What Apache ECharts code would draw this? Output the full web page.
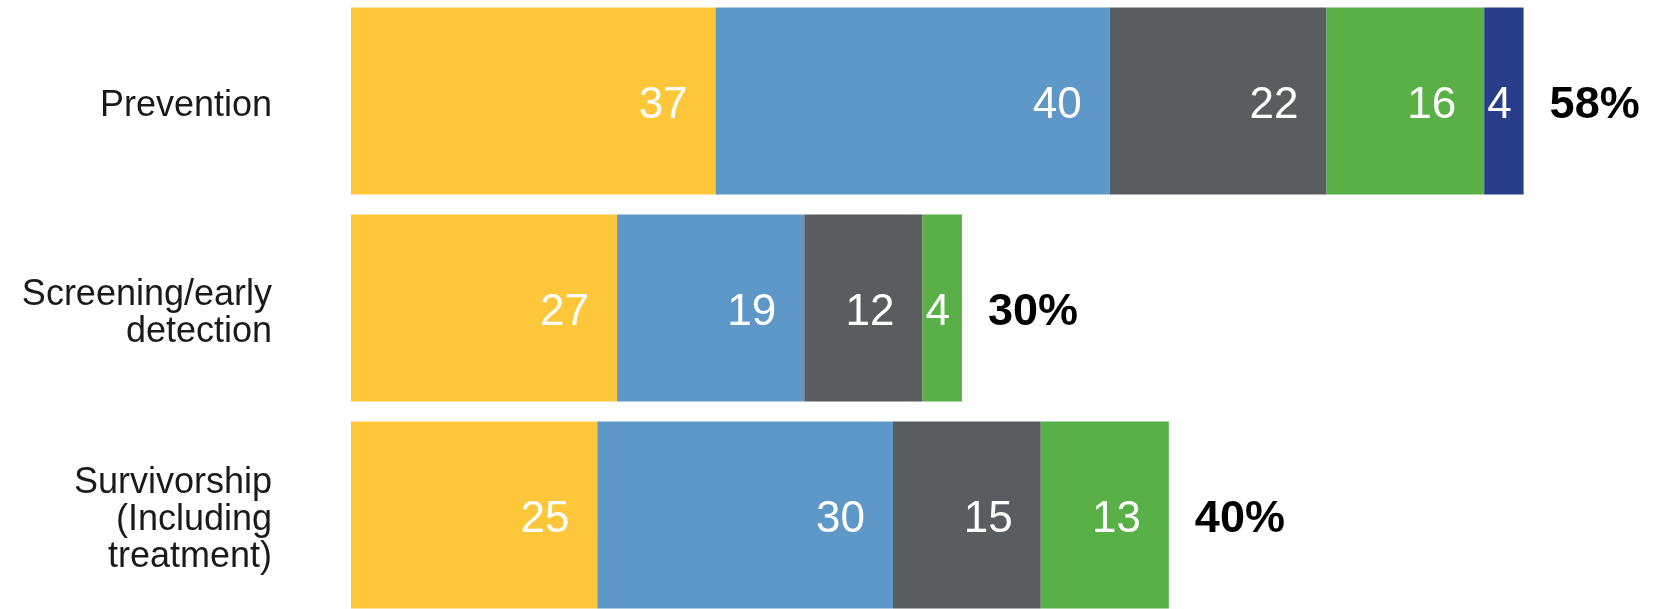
<!DOCTYPE html>
<html>
<head>
    <meta charset="utf-8">
    <title>Stacked bars</title>
    <script src="https://cdn.jsdelivr.net/npm/echarts@6/dist/echarts.min.js"></script>
    <style>
        html, body { margin: 0; padding: 0; background: #fff; }
        #main { width: 1673px; height: 609px; }
    </style>
</head>
<body>
    <div id="main"></div>
    <script>
        // data
        const categories = ['Prevention', 'Screening/early\ndetection', 'Survivorship\n(Including\ntreatment)'];
        const seriesNames = ['s1', 's2', 's3', 's4', 's5'];
        const seriesColors = ['#FEC73A', '#5E98C9', '#595D60', '#58B047', '#293E8A'];
        const values1 = [37, 27, 25];
        const values2 = [40, 19, 30];
        const values3 = [22, 12, 15];
        const values4 = [16, 4, 13];
        const values5 = [4, 0, 0];
        const pctLabels = ['58%', '30%', '40%'];

        const allValues = [values1, values2, values3, values4, values5];
        const totals = categories.map((c, i) => allValues.reduce((s, arr) => s + arr[i], 0));

        const myChart = echarts.init(document.getElementById('main'));
        const font = '"Liberation Sans", Arial, sans-serif';
        const BAR_W = 187;

        const series = allValues.map((arr, k) => ({
            name: seriesNames[k],
            type: 'bar',
            stack: 'all',
            barWidth: BAR_W,
            clip: false,
            itemStyle: { color: seriesColors[k] },
            data: arr.map(v => ({
                value: v,
                label: {
                    show: v > 0,
                    // too narrow for the usual inside-end placement
                    position: v < 6 ? 'insideLeft' : 'insideRight',
                    distance: v < 6 ? 3 : 28
                }
            })),
            label: {
                color: '#fff',
                fontSize: 44,
                fontFamily: font,
                offset: [0, 5]
            }
        }));

        // percentage labels at end of each bar
        series.push({
            name: 'total',
            type: 'bar',
            barWidth: BAR_W,
            barGap: '-100%',
            clip: false,
            z: 1,
            silent: true,
            itemStyle: { color: 'rgba(0,0,0,0)' },
            label: {
                show: true,
                position: 'right',
                distance: 26,
                offset: [0, 5],
                color: '#000',
                fontSize: 45,
                fontWeight: 'bold',
                fontFamily: font,
                formatter: p => pctLabels[p.dataIndex]
            },
            data: totals
        });

        const option = {
            animation: false,
            grid: { left: 351, right: 41, top: 101, height: 414, containLabel: false },
            xAxis: {
                type: 'value',
                min: 0,
                max: 130,
                show: false
            },
            yAxis: {
                type: 'category',
                inverse: true,
                boundaryGap: false,
                data: categories,
                axisLine: { show: false },
                axisTick: { show: false },
                splitLine: { show: false },
                axisLabel: {
                    margin: 79,
                    align: 'right',
                    // small spacer line on top nudges the text down a bit
                    formatter: v => '{s| }\n' + v.split('\n').map(l => '{t|' + l + '}').join('\n'),
                    rich: {
                        s: { fontSize: 1, lineHeight: 11 },
                        t: { fontSize: 36, lineHeight: 37, color: '#1a1a1a', fontFamily: font }
                    }
                }
            },
            series: series
        };

        myChart.setOption(option);
    </script>
</body>
</html>
